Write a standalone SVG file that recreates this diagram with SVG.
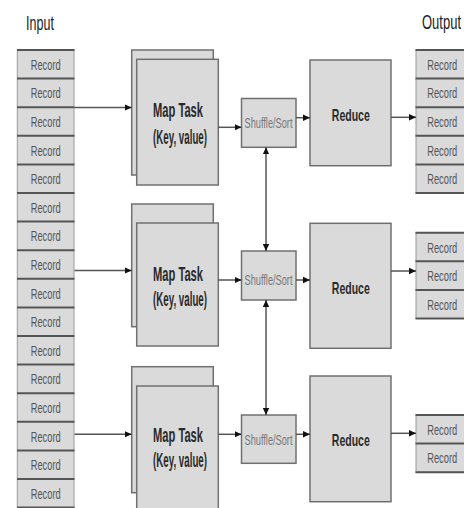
<svg xmlns="http://www.w3.org/2000/svg" width="464" height="508" viewBox="0 0 464 508">
<defs>
<marker id="ah" markerUnits="userSpaceOnUse" markerWidth="8" markerHeight="8" refX="7" refY="4" orient="auto-start-reverse">
<path d="M0,0.8 L7,4 L0,7.2 Z" fill="#111"/>
</marker>
<style>
.col{fill:#dadada;stroke:#9a9a9a;stroke-width:1}
.sep{stroke:#555;stroke-width:2}
.rt{font-family:"Liberation Sans",Arial,sans-serif;font-size:9.3px;fill:#555;text-anchor:middle}
.box{fill:#dadada;stroke:#707070;stroke-width:1.5}
.mt{font-family:"Liberation Sans",Arial,sans-serif;font-size:10.5px;font-weight:bold;fill:#2a2a2a;text-anchor:middle}
.rd{font-family:"Liberation Sans",Arial,sans-serif;font-size:10.5px;font-weight:bold;fill:#2a2a2a;text-anchor:middle}
.st{font-family:"Liberation Sans",Arial,sans-serif;font-size:9.2px;fill:#777;text-anchor:middle}
.lbl{font-family:"Liberation Sans",Arial,sans-serif;font-size:12.5px;fill:#222;text-anchor:middle}
.con{stroke:#555;stroke-width:1.5;fill:none}
</style>
</defs>
<rect width="464" height="508" fill="#fff"/>

<g id="label-input"><text class="lbl" transform="translate(40,30) scale(1,1.55)">Input</text></g>
<g id="label-output"><text class="lbl" transform="translate(441.5,29) scale(1,1.55)" textLength="39" lengthAdjust="spacingAndGlyphs">Output</text></g>

<g id="input-records">
<rect class="col" x="17.3" y="50" width="56.7" height="457.6"/>
<g class="sep">
<line x1="17" y1="50" x2="74.5" y2="50"/><line x1="17" y1="78.6" x2="74.5" y2="78.6"/><line x1="17" y1="107.2" x2="74.5" y2="107.2"/><line x1="17" y1="135.8" x2="74.5" y2="135.8"/><line x1="17" y1="164.4" x2="74.5" y2="164.4"/><line x1="17" y1="193" x2="74.5" y2="193"/><line x1="17" y1="221.6" x2="74.5" y2="221.6"/><line x1="17" y1="250.2" x2="74.5" y2="250.2"/><line x1="17" y1="278.8" x2="74.5" y2="278.8"/><line x1="17" y1="307.4" x2="74.5" y2="307.4"/><line x1="17" y1="336" x2="74.5" y2="336"/><line x1="17" y1="364.6" x2="74.5" y2="364.6"/><line x1="17" y1="393.2" x2="74.5" y2="393.2"/><line x1="17" y1="421.8" x2="74.5" y2="421.8"/><line x1="17" y1="450.4" x2="74.5" y2="450.4"/><line x1="17" y1="479" x2="74.5" y2="479"/><line x1="17" y1="507.6" x2="74.5" y2="507.6"/>
</g>
<g>
<text class="rt" transform="translate(45.7,69.8) scale(1,1.5)">Record</text>
<text class="rt" transform="translate(45.7,98.4) scale(1,1.5)">Record</text>
<text class="rt" transform="translate(45.7,127) scale(1,1.5)">Record</text>
<text class="rt" transform="translate(45.7,155.6) scale(1,1.5)">Record</text>
<text class="rt" transform="translate(45.7,184.2) scale(1,1.5)">Record</text>
<text class="rt" transform="translate(45.7,212.8) scale(1,1.5)">Record</text>
<text class="rt" transform="translate(45.7,241.4) scale(1,1.5)">Record</text>
<text class="rt" transform="translate(45.7,270) scale(1,1.5)">Record</text>
<text class="rt" transform="translate(45.7,298.6) scale(1,1.5)">Record</text>
<text class="rt" transform="translate(45.7,327.2) scale(1,1.5)">Record</text>
<text class="rt" transform="translate(45.7,355.8) scale(1,1.5)">Record</text>
<text class="rt" transform="translate(45.7,384.4) scale(1,1.5)">Record</text>
<text class="rt" transform="translate(45.7,413) scale(1,1.5)">Record</text>
<text class="rt" transform="translate(45.7,441.6) scale(1,1.5)">Record</text>
<text class="rt" transform="translate(45.7,470.2) scale(1,1.5)">Record</text>
<text class="rt" transform="translate(45.7,498.8) scale(1,1.5)">Record</text>
</g>
</g>

<g id="map1">
<rect class="box" x="131.7" y="50" width="81.6" height="125"/>
<rect class="box" x="136.7" y="59.3" width="81.6" height="125.7"/>
<text class="mt" transform="translate(178,117) scale(1,1.85)" textLength="50" lengthAdjust="spacingAndGlyphs">Map Task</text>
<text class="mt" transform="translate(180,143.5) scale(1,1.85)" textLength="54" lengthAdjust="spacingAndGlyphs">(Key, value)</text>
</g>
<g id="map2">
<rect class="box" x="131.7" y="204" width="81.6" height="122.7"/>
<rect class="box" x="136.7" y="223" width="81.6" height="123"/>
<text class="mt" transform="translate(178,281) scale(1,1.85)" textLength="50" lengthAdjust="spacingAndGlyphs">Map Task</text>
<text class="mt" transform="translate(180,306) scale(1,1.85)" textLength="54" lengthAdjust="spacingAndGlyphs">(Key, value)</text>
</g>
<g id="map3">
<rect class="box" x="131.7" y="366.7" width="81.6" height="126"/>
<rect class="box" x="136.7" y="386" width="81.6" height="130"/>
<text class="mt" transform="translate(178,441.5) scale(1,1.85)" textLength="50" lengthAdjust="spacingAndGlyphs">Map Task</text>
<text class="mt" transform="translate(180,467) scale(1,1.85)" textLength="54" lengthAdjust="spacingAndGlyphs">(Key, value)</text>
</g>

<g id="shuffle1">
<rect class="box" x="241.5" y="98.5" width="54.5" height="48.8"/>
<text class="st" transform="translate(268.5,127.5) scale(1,1.5)">Shuffle/Sort</text>
</g>
<g id="shuffle2">
<rect class="box" x="241.5" y="251" width="54.5" height="49"/>
<text class="st" transform="translate(268.5,285) scale(1,1.5)">Shuffle/Sort</text>
</g>
<g id="shuffle3">
<rect class="box" x="241.5" y="415" width="54.5" height="48.3"/>
<text class="st" transform="translate(268.5,445) scale(1,1.5)">Shuffle/Sort</text>
</g>

<g id="reduce1">
<rect class="box" x="310" y="60" width="81" height="105.7"/>
<text class="rd" transform="translate(350.8,121.3) scale(1,1.65)">Reduce</text>
</g>
<g id="reduce2">
<rect class="box" x="310" y="223.3" width="81" height="125"/>
<text class="rd" transform="translate(350.8,293.8) scale(1,1.65)">Reduce</text>
</g>
<g id="reduce3">
<rect class="box" x="310" y="376" width="81" height="125.7"/>
<text class="rd" transform="translate(350.8,446.3) scale(1,1.65)">Reduce</text>
</g>

<g id="output1">
<rect class="col" x="416" y="50" width="56" height="143"/>
<g class="sep">
<line x1="415.5" y1="50" x2="472" y2="50"/><line x1="415.5" y1="78.6" x2="472" y2="78.6"/><line x1="415.5" y1="107.2" x2="472" y2="107.2"/><line x1="415.5" y1="135.8" x2="472" y2="135.8"/><line x1="415.5" y1="164.4" x2="472" y2="164.4"/><line x1="415.5" y1="193" x2="472" y2="193"/>
</g>
<text class="rt" transform="translate(442.2,69.8) scale(1,1.5)">Record</text>
<text class="rt" transform="translate(442.2,98.4) scale(1,1.5)">Record</text>
<text class="rt" transform="translate(442.2,127) scale(1,1.5)">Record</text>
<text class="rt" transform="translate(442.2,155.6) scale(1,1.5)">Record</text>
<text class="rt" transform="translate(442.2,184.2) scale(1,1.5)">Record</text>
</g>
<g id="output2">
<rect class="col" x="416" y="232.7" width="56" height="85.8"/>
<g class="sep">
<line x1="415.5" y1="232.7" x2="472" y2="232.7"/><line x1="415.5" y1="261.3" x2="472" y2="261.3"/><line x1="415.5" y1="289.9" x2="472" y2="289.9"/><line x1="415.5" y1="318.5" x2="472" y2="318.5"/>
</g>
<text class="rt" transform="translate(442.2,252.5) scale(1,1.5)">Record</text>
<text class="rt" transform="translate(442.2,281.1) scale(1,1.5)">Record</text>
<text class="rt" transform="translate(442.2,309.7) scale(1,1.5)">Record</text>
</g>
<g id="output3">
<rect class="col" x="416" y="415" width="56" height="57.2"/>
<g class="sep">
<line x1="415.5" y1="415" x2="472" y2="415"/><line x1="415.5" y1="443.6" x2="472" y2="443.6"/><line x1="415.5" y1="472.2" x2="472" y2="472.2"/>
</g>
<text class="rt" transform="translate(442.2,434.8) scale(1,1.5)">Record</text>
<text class="rt" transform="translate(442.2,463.4) scale(1,1.5)">Record</text>
</g>

<g id="connectors">
<line class="con" x1="74.5" y1="107.5" x2="131.7" y2="107.5" marker-end="url(#ah)"/>
<line class="con" x1="74.5" y1="270.5" x2="131.7" y2="270.5" marker-end="url(#ah)"/>
<line class="con" x1="74.5" y1="434.3" x2="131.7" y2="434.3" marker-end="url(#ah)"/>
<line class="con" x1="218.3" y1="127.3" x2="241.5" y2="127.3" marker-end="url(#ah)"/>
<line class="con" x1="218.3" y1="280" x2="241.5" y2="280" marker-end="url(#ah)"/>
<line class="con" x1="218.3" y1="434.3" x2="241.5" y2="434.3" marker-end="url(#ah)"/>
<line class="con" x1="296" y1="117.7" x2="310" y2="117.7" marker-end="url(#ah)"/>
<line class="con" x1="296" y1="280" x2="310" y2="280" marker-end="url(#ah)"/>
<line class="con" x1="296" y1="434.3" x2="310" y2="434.3" marker-end="url(#ah)"/>
<line class="con" x1="391" y1="117.3" x2="416" y2="117.3" marker-end="url(#ah)"/>
<line class="con" x1="391" y1="271" x2="416" y2="271" marker-end="url(#ah)"/>
<line class="con" x1="391" y1="433.3" x2="416" y2="433.3" marker-end="url(#ah)"/>
<line class="con" x1="266" y1="147.3" x2="266" y2="251" marker-start="url(#ah)" marker-end="url(#ah)"/>
<line class="con" x1="266" y1="300" x2="266" y2="415" marker-start="url(#ah)" marker-end="url(#ah)"/>
</g>
</svg>
